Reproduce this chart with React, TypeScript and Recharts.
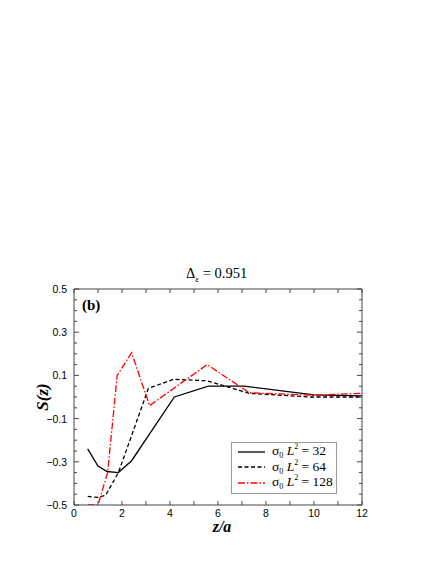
import { Line, LineChart, XAxis, YAxis } from "recharts";

// z/a positions and S(z) values
const zL32 = [0.57, 1.0, 1.38, 1.85, 2.4, 4.18, 5.6, 7.1, 10.0, 12];
const sL32 = [-0.24, -0.32, -0.345, -0.35, -0.295, 0.0, 0.05, 0.05, 0.01, 0.005];

const zL64 = [0.57, 1.0, 1.32, 1.85, 3.1, 4.15, 5.55, 7.3, 9.85, 12];
const sL64 = [-0.46, -0.465, -0.455, -0.35, 0.04, 0.082, 0.075, 0.017, 0.0, 0.0];

const zL128 = [0.57, 1.0, 1.4, 1.8, 2.4, 3.15, 5.55, 7.3, 9.9, 12];
const sL128 = [-0.5, -0.5, -0.35, 0.1, 0.205, -0.04, 0.15, 0.02, 0.008, 0.017];

const xTicks = [0, 1, 2, 3, 4, 5, 6, 7, 8, 9, 10, 11, 12];
const xLabels = [0, 2, 4, 6, 8, 10, 12];
const yTicks = [
  -0.5, -0.45, -0.4, -0.35, -0.3, -0.25, -0.2, -0.15, -0.1, -0.05, 0, 0.05, 0.1,
  0.15, 0.2, 0.25, 0.3, 0.35, 0.4, 0.45, 0.5,
];
const yLabels = [-0.5, -0.3, -0.1, 0.1, 0.3, 0.5];

const series = [
  { key: "32", label: "32", z: zL32, s: sL32, color: "#000", dash: undefined },
  { key: "64", label: "64", z: zL64, s: sL64, color: "#000", dash: "4 2.5" },
  { key: "128", label: "128", z: zL128, s: sL128, color: "#ff0000", dash: "7 2 1.5 2" },
];

const toRows = (z: number[], s: number[]) => z.map((v, i) => ({ z: v, s: s[i] }));

const axisColor = "#444";
const tickFont = "'Liberation Sans', Arial, sans-serif";
const serif = "'Liberation Serif', 'Times New Roman', serif";

const isIn = (v: number, list: number[]) =>
  list.some((m) => Math.abs(m - v) < 1e-6);

const fmtY = (v: number) => (v < 0 ? "\u2212" + Math.abs(v).toFixed(1) : v.toFixed(1));

function BottomTick({ x, y, payload }: any) {
  const v = payload.value;
  return (
    <g>
      <line x1={x} y1={y} x2={x} y2={y - 4} stroke={axisColor} />
      {isIn(v, xLabels) && (
        <text x={x} y={y + 12} textAnchor="middle" fontSize={10.5} fontFamily={tickFont} fill="#000">
          {v}
        </text>
      )}
    </g>
  );
}

function TopTick({ x, y }: any) {
  return <line x1={x} y1={y} x2={x} y2={y + 4} stroke={axisColor} />;
}

function LeftTick({ x, y, payload }: any) {
  const v = payload.value;
  const major = isIn(v, yLabels);
  return (
    <g>
      <line x1={x} y1={y} x2={x + (major ? 5 : 3)} y2={y} stroke={axisColor} />
      {major && (
        <text x={x - 7} y={y + 4} textAnchor="end" fontSize={10.5} fontFamily={tickFont} fill="#000">
          {fmtY(v)}
        </text>
      )}
    </g>
  );
}

function RightTick({ x, y, payload }: any) {
  const major = isIn(payload.value, yLabels);
  return <line x1={x} y1={y} x2={x - (major ? 5 : 3)} y2={y} stroke={axisColor} />;
}

function LegendBox() {
  return (
    <div
      style={{
        position: "absolute",
        left: 231,
        top: 442,
        border: "1px solid #999",
        background: "#fff",
        width: 106,
        height: 52,
        boxSizing: "border-box",
        padding: "1px 0 0 6px",
        fontFamily: serif,
        fontSize: 13.5,
        lineHeight: "15.5px",
      }}
    >
      {series.map((s) => (
        <div key={s.key} style={{ display: "flex", alignItems: "center", whiteSpace: "nowrap", height: 15.5 }}>
          <svg width={28} height={10} style={{ marginRight: 6, flex: "none" }}>
            <line x1={0} y1={5} x2={27} y2={5} stroke={s.color} strokeWidth={1.3} strokeDasharray={s.dash} />
          </svg>
          <span>
            σ<span style={{ fontSize: 8, position: "relative", top: 3 }}>0</span>
            {" "}
            <i>L</i>
            <span style={{ fontSize: 8, position: "relative", top: -6 }}>2</span> = {s.label}
          </span>
        </div>
      ))}
    </div>
  );
}

export default function App() {
  return (
    <div style={{ position: "absolute", left: 0, top: 0, width: 436, height: 564, background: "#fff" }}>
      <LineChart width={436} height={564} margin={{ top: 288, right: 73, bottom: 29, left: 34 }}>
        <XAxis
          dataKey="z"
          type="number"
          domain={[0, 12]}
          ticks={xTicks}
          interval={0}
          allowDataOverflow
          height={30}
          tickSize={0}
          tickMargin={0}
          stroke={axisColor}
          tick={<BottomTick />}
        />
        <XAxis
          xAxisId="top"
          dataKey="z"
          orientation="top"
          type="number"
          domain={[0, 12]}
          ticks={xTicks}
          interval={0}
          allowDataOverflow
          height={1}
          tickSize={0}
          tickMargin={0}
          stroke={axisColor}
          tick={<TopTick />}
        />
        <YAxis
          type="number"
          domain={[-0.5, 0.5]}
          ticks={yTicks}
          interval={0}
          allowDataOverflow
          width={40}
          tickSize={0}
          tickMargin={0}
          stroke={axisColor}
          tick={<LeftTick />}
        />
        <YAxis
          yAxisId="right"
          orientation="right"
          type="number"
          domain={[-0.5, 0.5]}
          ticks={yTicks}
          interval={0}
          allowDataOverflow
          width={1}
          tickSize={0}
          tickMargin={0}
          stroke={axisColor}
          tick={<RightTick />}
        />

        {series.map((s) => (
          <Line
            key={s.key}
            data={toRows(s.z, s.s)}
            dataKey="s"
            name={s.label}
            type="linear"
            stroke={s.color}
            strokeWidth={1.3}
            strokeDasharray={s.dash}
            dot={false}
            activeDot={false}
            isAnimationActive={false}
          />
        ))}
        {/* invisible copy so the mirrored top/right axes get drawn */}
        <Line
          data={toRows(zL32, sL32)}
          dataKey="s"
          xAxisId="top"
          yAxisId="right"
          stroke="none"
          dot={false}
          activeDot={false}
          legendType="none"
          isAnimationActive={false}
        />

        <text x={186} y={278} fontFamily={serif} fontSize={14.5} fill="#000">
          Δ<tspan fontSize={9} dy={4}>ε</tspan>
          <tspan dy={-4}> = 0.951</tspan>
        </text>
        <text x={82} y={310} fontFamily={serif} fontSize={15} fontWeight="bold" fill="#000">
          (b)
        </text>
        <text
          x={0}
          y={0}
          transform="translate(48 397) rotate(-90)"
          textAnchor="middle"
          fontFamily={serif}
          fontSize={17}
          fontWeight="bold"
          fontStyle="italic"
          fill="#000"
        >
          S(z)
        </text>
        <text
          x={222}
          y={532}
          textAnchor="middle"
          fontFamily={serif}
          fontSize={16}
          fontWeight="bold"
          fontStyle="italic"
          fill="#000"
        >
          z/a
        </text>
      </LineChart>
      <LegendBox />
    </div>
  );
}
